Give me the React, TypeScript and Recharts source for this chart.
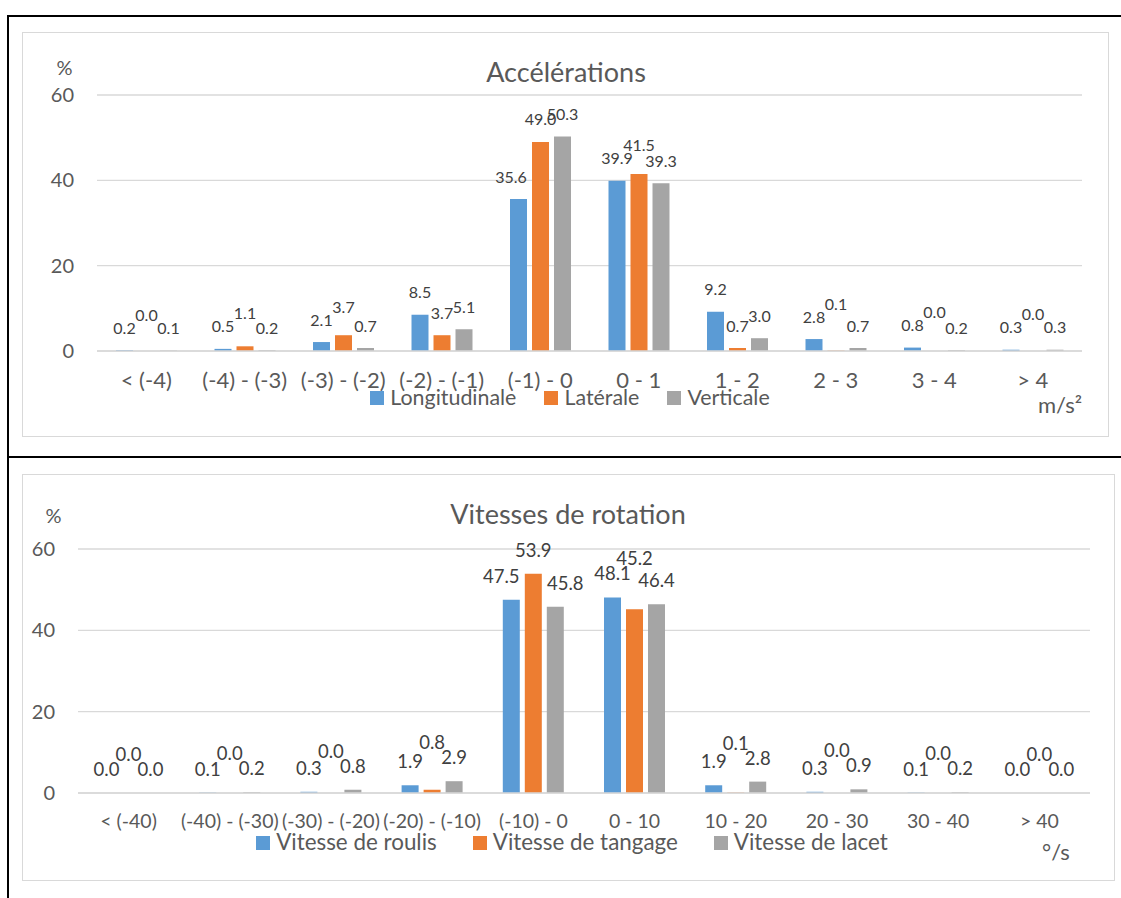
import React from 'react';
import { BarChart, Bar, XAxis, YAxis, CartesianGrid, LabelList, Legend } from 'recharts';

const FONT = 'Lato, "Noto Sans", sans-serif';
const TEXT = '#595959';
const LABEL = '#404040';
const GRID = '#D9D9D9';
const COLORS = ['#5B9BD5', '#ED7D31', '#A5A5A5'];

// Accélérations, classes en m/s²
const accelRanges = ['< (-4)', '(-4) - (-3)', '(-3) - (-2)', '(-2) - (-1)', '(-1) - 0', '0 - 1', '1 - 2', '2 - 3', '3 - 4', '> 4'];
const accelLongitudinale = [0.2, 0.5, 2.1, 8.5, 35.6, 39.9, 9.2, 2.8, 0.8, 0.3];
const accelLaterale = [0.0, 1.1, 3.7, 3.7, 49.0, 41.5, 0.7, 0.1, 0.0, 0.0];
const accelVerticale = [0.1, 0.2, 0.7, 5.1, 50.3, 39.3, 3.0, 0.7, 0.2, 0.3];
const accelSeriesNames = ['Longitudinale', 'Latérale', 'Verticale'];

// Vitesses de rotation, classes en °/s
const rotRanges = ['< (-40)', '(-40) - (-30)', '(-30) - (-20)', '(-20) - (-10)', '(-10) - 0', '0 - 10', '10 - 20', '20 - 30', '30 - 40', '> 40'];
const rotRoulis = [0.0, 0.1, 0.3, 1.9, 47.5, 48.1, 1.9, 0.3, 0.1, 0.0];
const rotTangage = [0.0, 0.0, 0.0, 0.8, 53.9, 45.2, 0.1, 0.0, 0.0, 0.0];
const rotLacet = [0.0, 0.2, 0.8, 2.9, 45.8, 46.4, 2.8, 0.9, 0.2, 0.0];
const rotSeriesNames = ['Vitesse de roulis', 'Vitesse de tangage', 'Vitesse de lacet'];

const yTicks = [0, 20, 40, 60];
const Y_MAX = 60;
const X_AXIS_H = 40;
const BAR_W = 17;
const BAR_GAP = 5;

type Layout = {
  left: number; top: number; width: number; height: number;
  yAxisWidth: number; mTop: number; mRight: number; mBottom: number;
  xTickSize: number; labelSize: number; labelLift: number; labelH: number;
  legendY: number; legendGap: number; legendShift: number; legendSize: number;
  title: [number, number]; pct: [number, number]; unit: [number, number];
};

const accelLayout: Layout = {
  left: 23, top: 32, width: 1086, height: 405,
  yAxisWidth: 74, mTop: 63, mRight: 27, mBottom: 46,
  xTickSize: 22, labelSize: 16, labelLift: 16.5, labelH: 13,
  legendY: 366, legendGap: 28, legendShift: 8, legendSize: 21.4,
  title: [566, 71], pct: [64.5, 67], unit: [1060, 405],
};

const rotLayout: Layout = {
  left: 23, top: 474, width: 1092, height: 407,
  yAxisWidth: 55, mTop: 75, mRight: 25, mBottom: 48,
  xTickSize: 19.5, labelSize: 18.5, labelLift: 17, labelH: 15,
  legendY: 368.5, legendGap: 36, legendShift: 6, legendSize: 22.4,
  title: [568, 513], pct: [53.5, 515], unit: [1056, 852],
};

const centered = (x: number, y: number, size: number): React.CSSProperties => ({
  position: 'absolute', left: x, top: y, transform: 'translate(-50%, -50%)',
  fontFamily: FONT, fontSize: size, color: TEXT, lineHeight: 1, whiteSpace: 'nowrap',
});

interface ChartProps {
  title: string;
  unit: string;
  categories: string[];
  names: string[];
  values: number[][];
  lay: Layout;
}

const DistributionChart = ({ title, unit, categories, names, values, lay }: ChartProps) => {
  const data = categories.map((c, i) => ({ cat: c, s0: values[0][i], s1: values[1][i], s2: values[2][i] }));
  const plotH = lay.height - lay.mTop - lay.mBottom - X_AXIS_H;
  const k = plotH / Y_MAX;
  const plotW = lay.width - lay.yAxisWidth - lay.mRight;
  const band = plotW / categories.length;

  // labels sit above the bar; the middle one moves up when squeezed by both neighbours,
  // and a label that would run into a taller neighbouring bar slides sideways
  const makeLabel = (s: number) => (props: any) => {
    const { x, y, width, height, value } = props;
    let cx = Number(x) + Number(width) / 2;
    const idx = Math.min(categories.length - 1, Math.max(0, Math.floor((cx - lay.yAxisWidth) / band)));
    const base = Number(y) + Number(height);
    const natural = (j: number) => base - values[j][idx] * k - lay.labelLift;
    const text = Number(value).toFixed(1);
    let ty = base - Number(value) * k - lay.labelLift;
    if (s === 1) {
      const a = natural(0);
      const b = natural(2);
      if (Math.abs(a - ty) < lay.labelH && Math.abs(b - ty) < lay.labelH) ty = Math.min(a, b) - lay.labelH;
    }
    const half = (text.length * 0.5 * lay.labelSize) / 2;
    const overlap = half - (BAR_W + BAR_GAP - BAR_W / 2);
    if (overlap > 0) {
      const hits = (j: number) => j >= 0 && j <= 2 && base - values[j][idx] * k < ty;
      if (hits(s + 1)) cx -= overlap + 5;
      else if (hits(s - 1)) cx += overlap + 5;
    }
    return (
      <text x={cx} y={ty} textAnchor="middle" fontSize={lay.labelSize} fill={LABEL} fontFamily={FONT}>
        {text}
      </text>
    );
  };

  const legendContent = () => (
    <div style={{ display: 'flex', justifyContent: 'center', alignItems: 'center', height: 28, gap: lay.legendGap, paddingLeft: lay.legendShift }}>
      {names.map((n, i) => (
        <div key={n} style={{ display: 'flex', alignItems: 'center', gap: 6 }}>
          <span style={{ width: 14, height: 14, background: COLORS[i], display: 'inline-block' }} />
          <span style={{ fontFamily: FONT, fontSize: lay.legendSize, color: TEXT, lineHeight: 1 }}>{n}</span>
        </div>
      ))}
    </div>
  );

  return (
    <>
      <div style={{ position: 'absolute', left: lay.left - 1, top: lay.top, width: lay.width + 1, height: lay.height, border: `1.5px solid ${GRID}`, boxSizing: 'border-box' }} />
      <div style={{ position: 'absolute', left: lay.left, top: lay.top }}>
        <BarChart
          width={lay.width}
          height={lay.height}
          data={data}
          barSize={BAR_W}
          barGap={BAR_GAP}
          margin={{ top: lay.mTop, right: lay.mRight, bottom: lay.mBottom, left: 0 }}
        >
          <CartesianGrid vertical={false} stroke={GRID} strokeWidth={1.3} />
          <XAxis
            dataKey="cat"
            height={X_AXIS_H}
            interval={0}
            tickLine={false}
            tickMargin={15}
            axisLine={{ stroke: GRID, strokeWidth: 1.3 }}
            tick={{ fill: TEXT, fontSize: lay.xTickSize, fontFamily: FONT }}
          />
          <YAxis
            width={lay.yAxisWidth}
            domain={[0, Y_MAX]}
            ticks={yTicks}
            axisLine={false}
            tickLine={false}
            tickMargin={17}
            tick={{ fill: TEXT, fontSize: 20, fontFamily: FONT }}
          />
          <Legend
            layout="horizontal"
            verticalAlign="middle"
            align="center"
            wrapperStyle={{ top: lay.legendY - 14, left: 0, width: lay.width, height: 28 }}
            content={legendContent}
          />
          {[0, 1, 2].map((s) => (
            <Bar key={s} dataKey={`s${s}`} name={names[s]} fill={COLORS[s]} minPointSize={0.01} isAnimationActive={false}>
              <LabelList dataKey={`s${s}`} content={makeLabel(s)} />
            </Bar>
          ))}
        </BarChart>
      </div>
      <div style={centered(lay.title[0], lay.title[1], 27)}>{title}</div>
      <div style={centered(lay.pct[0], lay.pct[1], 20)}>%</div>
      <div style={centered(lay.unit[0], lay.unit[1], 22)}>{unit}</div>
    </>
  );
};

export default function App() {
  return (
    <div style={{ position: 'absolute', left: 0, top: 0, width: 1121, height: 898, background: '#fff', overflow: 'hidden' }}>
      <div style={{ position: 'absolute', left: 7, top: 15, width: 1114, height: 2, background: '#000' }} />
      <div style={{ position: 'absolute', left: 7, top: 456, width: 1114, height: 2, background: '#000' }} />
      <div style={{ position: 'absolute', left: 7, top: 15, width: 2, height: 883, background: '#000' }} />
      <DistributionChart
        title="Accélérations"
        unit="m/s²"
        categories={accelRanges}
        names={accelSeriesNames}
        values={[accelLongitudinale, accelLaterale, accelVerticale]}
        lay={accelLayout}
      />
      <DistributionChart
        title="Vitesses de rotation"
        unit="°/s"
        categories={rotRanges}
        names={rotSeriesNames}
        values={[rotRoulis, rotTangage, rotLacet]}
        lay={rotLayout}
      />
    </div>
  );
}
